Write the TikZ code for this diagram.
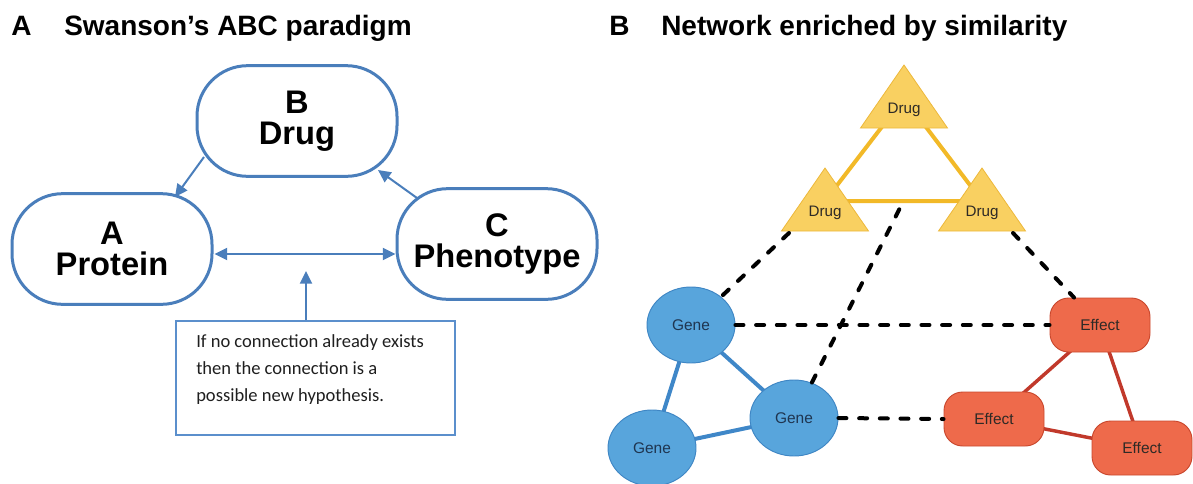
\documentclass[tikz,border=0pt]{standalone}
\usepackage{fontspec}
\setmainfont{Liberation Sans}
\newfontfamily\bodyfont{Carlito}
\usetikzlibrary{arrows.meta,calc,shapes.geometric}
\pgfdeclarelayer{bg}
\pgfsetlayers{bg,main}

\definecolor{abcblue}{HTML}{4A7EBB}
\definecolor{boxblue}{HTML}{5B8FCC}
\definecolor{genefill}{HTML}{58A5DC}
\definecolor{geneborder}{HTML}{3F86C4}
\definecolor{geneline}{HTML}{3F87C8}
\definecolor{genetext}{HTML}{1F3550}
\definecolor{drugfill}{HTML}{F9D061}
\definecolor{drugborder}{HTML}{EDB83A}
\definecolor{drugline}{HTML}{F2B928}
\definecolor{efffill}{HTML}{EE6A4B}
\definecolor{effborder}{HTML}{C9482E}
\definecolor{effline}{HTML}{C1392B}
\definecolor{labeltext}{HTML}{2E2A26}

\tikzset{
  paneltitle/.style={inner sep=0pt, anchor=base west,
    font=\bfseries\fontsize{21}{24}\selectfont},
  abc/.style={draw=abcblue, line width=2.25pt, fill=white,
    rounded corners=38pt, minimum width=150pt, minimum height=83pt,
    align=center, font=\bfseries\fontsize{24.5}{23}\selectfont},
  arr/.style={draw=abcblue, line width=1.5pt,
    -{Triangle[length=9.5pt,width=9pt]}},
  arrboth/.style={draw=abcblue, line width=1.5pt,
    {Triangle[length=9.5pt,width=9pt]}-{Triangle[length=9.5pt,width=9pt]}},
  notebox/.style={draw=boxblue, line width=1.3pt, fill=white,
    minimum width=209pt, minimum height=85.5pt},
  notetext/.style={inner sep=0pt, anchor=west, align=left, text=black!88,
    font=\bodyfont\fontsize{13.9}{20.25}\selectfont},
  drugtri/.style={fill=drugfill, draw=drugborder, line width=0.6pt,
    line join=miter},
  druglbl/.style={inner sep=0pt, text=labeltext,
    font=\fontsize{11.4}{13}\selectfont},
  gene/.style={ellipse, fill=genefill, draw=geneborder, line width=0.7pt,
    minimum width=66pt, minimum height=57pt, inner sep=0pt, text=genetext,
    font=\fontsize{11.6}{13}\selectfont},
  effect/.style={rectangle, rounded corners=14pt, fill=efffill,
    draw=effborder, line width=0.7pt, minimum width=75pt,
    minimum height=40.5pt, inner sep=0pt, text=labeltext,
    font=\fontsize{11.6}{13}\selectfont},
  yellowlink/.style={draw=drugline, line width=3pt},
  genelink/.style={draw=geneline, line width=3pt},
  efflink/.style={draw=effline, line width=2.6pt},
  simdash/.style={draw=black, line width=3pt, line cap=round,
    dash pattern=on 6pt off 9.5pt},
  drugpic/.pic={
    \filldraw[drugtri] (0,-45) -- (-43.5,18) -- (43.5,18) -- cycle;
    \node[druglbl] (-label) at (0,0) {Drug};
    \coordinate (-hub) at (0,-12);
    \coordinate (-bl) at (-36,20);
    \coordinate (-br) at (31,20);
  }
}

\begin{document}
\begin{tikzpicture}[x=0.75pt, y=-0.75pt]
\useasboundingbox (0,0) rectangle (1193,483);

% ---------- panel titles ----------
\node[paneltitle] (labA) at (11,35) {A};
\node[paneltitle] (titleA) at (64,35) {Swanson’s ABC paradigm};
\node[paneltitle] (labB) at (609,35) {B};
\node[paneltitle] (titleB) at (661,35) {Network enriched by similarity};

% ---------- panel A: ABC paradigm ----------
\node[abc] (B) at (297,121) {B\\Drug};
\node[abc] (A) at (112,249) {A\\Protein};
\node[abc] (C) at (497,244) {C\\Phenotype};

\draw[arr] ([shift={(-93,36)}]B.center) -- ([shift={(63,-52)}]A.center);
\draw[arr] ([shift={(-80,-46)}]C.center) -- ([shift={(81,49)}]B.center);
\draw[arrboth] ($(A.east)+(1,5)$) -- ($(C.west)+(0,10)$);

\node[notebox] (note) at (315.5,378) {};
\node[notetext] (notetxt) at (196,370)
  {If no connection already exists\\then the connection is a\\possible new hypothesis.};
\coordinate (gapmark) at (306,271);
\draw[arr] (note.north -| gapmark) -- (gapmark);

% ---------- panel B: drug layer ----------
\pic (dT) at (904,110) {drugpic};
\pic (dL) at (825,213) {drugpic};
\pic (dR) at (982,213) {drugpic};

% ---------- gene layer ----------
\node[gene] (g1) at (691,325) {Gene};
\node[gene] (g2) at (794,418) {Gene};
\node[gene] (g3) at (652,448) {Gene};

% ---------- effect layer ----------
\node[effect] (e1) at (1100,325) {Effect};
\node[effect] (e2) at (994,419) {Effect};
\node[effect] (e3) at (1142,448) {Effect};

% similarity edges inside each layer, behind the shapes
\begin{pgfonlayer}{bg}
  \draw[yellowlink] (dT-hub) -- (dL-hub) -- (dR-hub) -- cycle;
  \draw[genelink] (g1.center) -- (g3.center);
  \draw[genelink] (g1.center) -- (g2.center);
  \draw[genelink] (g3.center) -- (g2.center);
  \draw[efflink] (e1.center) -- (e2.center);
  \draw[efflink] (e1.center) -- (e3.center);
  \draw[efflink] (e2.center) -- (e3.center);
\end{pgfonlayer}

% cross-layer associations
\draw[simdash] (dL-bl) -- (g1);
\draw[simdash] (dR-br) -- (e1);
\draw[simdash, shorten <=7pt] ($(dL-hub)!0.5!(dR-hub)$) -- (g2);
\draw[simdash] (g1.east) -- (e1.west);
\draw[simdash] (g2.east) -- (e2.west);

\end{tikzpicture}
\end{document}
